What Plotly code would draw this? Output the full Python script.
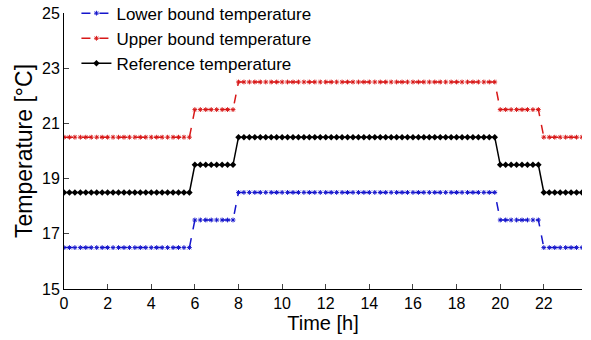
import plotly.graph_objects as go

# time samples every 15 min (hours)
time_h = [i * 0.25 for i in range(96)]

# step schedules: 0-6h, 6-8h, 8-20h, 20-22h, 22-24h
lower = [16.5] * 24 + [17.5] * 8 + [18.5] * 48 + [17.5] * 8 + [16.5] * 8
upper = [20.5] * 24 + [21.5] * 8 + [22.5] * 48 + [21.5] * 8 + [20.5] * 8
reference = [18.5] * 24 + [19.5] * 8 + [20.5] * 48 + [19.5] * 8 + [18.5] * 8

x_ticks = list(range(0, 23, 2))
y_ticks = [15, 17, 19, 21, 23, 25]

FONT = "Liberation Sans, Arial, sans-serif"

fig = go.Figure()
fig.add_trace(go.Scatter(
    x=time_h, y=lower, name="Lower bound temperature", mode="lines+markers",
    line=dict(color="#1515cc", width=1.5, dash="dash"),
    marker=dict(symbol="asterisk-open", size=4, line=dict(color="#1515cc", width=1)),
))
fig.add_trace(go.Scatter(
    x=time_h, y=upper, name="Upper bound temperature", mode="lines+markers",
    line=dict(color="#d81818", width=1.5, dash="dash"),
    marker=dict(symbol="asterisk-open", size=4, line=dict(color="#d81818", width=1)),
))
fig.add_trace(go.Scatter(
    x=time_h, y=reference, name="Reference temperature", mode="lines+markers",
    line=dict(color="black", width=1.5),
    marker=dict(symbol="diamond", size=5, color="black"),
))

fig.update_layout(
    width=591, height=340,
    margin=dict(l=64, r=9, t=13, b=51, autoexpand=False),
    paper_bgcolor="white", plot_bgcolor="white",
    font=dict(family=FONT, color="black", size=16),
    showlegend=True,
    legend=dict(
        x=0.024, y=1.063, xanchor="left", yanchor="top",
        bgcolor="rgba(255,255,255,0)", borderwidth=0,
        font=dict(size=17, family=FONT), tracegroupgap=0,
        itemwidth=30,
    ),
    xaxis=dict(
        range=[0, 23.75], tickvals=x_ticks, ticks="inside", ticklen=5,
        showline=True, linecolor="black", linewidth=1, showgrid=False,
        zeroline=False, tickfont=dict(size=16),
        title=dict(text="Time [h]", font=dict(size=20), standoff=4),
    ),
    yaxis=dict(
        range=[15, 25], tickvals=y_ticks, ticks="inside", ticklen=5,
        showline=True, linecolor="black", linewidth=1, showgrid=False,
        zeroline=False, tickfont=dict(size=16),
        title=dict(text="Temperature [°C]", font=dict(size=23), standoff=2),
    ),
)

fig.write_html("out.html")
